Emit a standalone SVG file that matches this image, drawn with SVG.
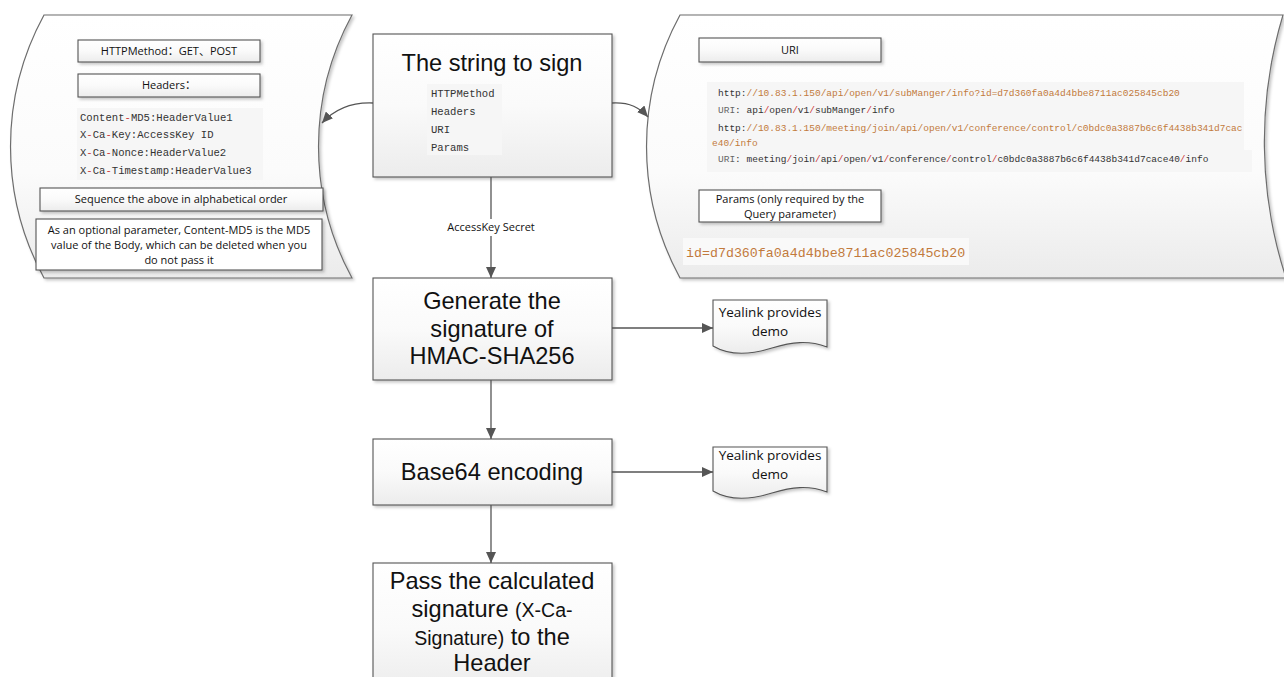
<svg xmlns="http://www.w3.org/2000/svg" width="1284" height="677" viewBox="0 0 1284 677">
<defs>
<linearGradient id="gShape" x1="0" y1="0" x2="0" y2="1"><stop offset="0" stop-color="#ffffff"/><stop offset="0.6" stop-color="#fbfbfb"/><stop offset="1" stop-color="#ebebeb"/></linearGradient>
<linearGradient id="gBox" x1="0" y1="0" x2="0" y2="1"><stop offset="0" stop-color="#ffffff"/><stop offset="0.5" stop-color="#fafafa"/><stop offset="1" stop-color="#ececec"/></linearGradient>
<filter id="sh" x="-10%" y="-10%" width="130%" height="130%"><feDropShadow dx="2" dy="2" stdDeviation="1.5" flood-color="#000" flood-opacity="0.22"/></filter>
<marker id="ah" markerUnits="userSpaceOnUse" markerWidth="12" markerHeight="10" refX="11" refY="5" orient="auto"><path d="M0,0 L11,5 L0,10 Z" fill="#555"/></marker>
</defs>
<style>
.shape{fill:url(#gShape);stroke:#6d6d6d;stroke-width:1.2;filter:url(#sh)}
.box{fill:url(#gBox);stroke:#555;stroke-width:1.1;filter:url(#sh)}
.wbox{fill:#fff;stroke:#555;stroke-width:1.1;filter:url(#sh)}
.lbl{font-family:"Open Sans","Noto Sans CJK SC",sans-serif;font-size:11px;fill:#111;text-anchor:middle}
.big{font-family:"Liberation Sans",Arial,sans-serif;font-size:23.6px;fill:#111;text-anchor:middle}
.doc{font-family:"Open Sans",sans-serif;font-size:13.5px;fill:#111;text-anchor:middle}
.code{font-family:"Liberation Mono","DejaVu Sans Mono",monospace;fill:#333}
.c1{font-size:10.6px}
.c2{font-size:9.5px}
.or{fill:#c27a3c}
.rd{fill:#cc3a3a}
.gy{fill:#666}
.cbg{fill:#f6f6f6}
.conn{fill:none;stroke:#555;stroke-width:1.3}
</style>

<g id="left-panel">
<path class="shape" d="M44,15 L352,15 A275,275 0 0 0 352,278 L44,278 A275,275 0 0 1 44,15 Z"/>
<rect class="box" x="78" y="40" width="182" height="22"/>
<text class="lbl" x="169" y="55">HTTPMethod：GET、POST</text>
<rect class="box" x="78" y="74" width="182" height="23"/>
<text class="lbl" x="169" y="89">Headers：</text>
<rect class="cbg" x="77" y="108" width="186" height="72"/>
<text class="code c1" x="80" y="121">Content<tspan class="rd">-</tspan>MD5:HeaderValue1</text>
<text class="code c1" x="80" y="138">X<tspan class="rd">-</tspan>Ca<tspan class="rd">-</tspan>Key:AccessKey ID</text>
<text class="code c1" x="80" y="156">X<tspan class="rd">-</tspan>Ca<tspan class="rd">-</tspan>Nonce:HeaderValue2</text>
<text class="code c1" x="80" y="174">X<tspan class="rd">-</tspan>Ca<tspan class="rd">-</tspan>Timestamp:HeaderValue3</text>
<rect class="box" x="40" y="188" width="283" height="23"/>
<text class="lbl" x="181" y="203">Sequence the above in alphabetical order</text>
<rect class="wbox" x="36" y="219" width="286" height="51"/>
<text class="lbl" x="179" y="234">As an optional parameter, Content-MD5 is the MD5</text>
<text class="lbl" x="179" y="249">value of the Body, which can be deleted when you</text>
<text class="lbl" x="179" y="264">do not pass it</text>
</g>

<g id="right-panel">
<path class="shape" d="M680,15 L1283,15 A440,440 0 0 0 1286,278 L680,278 A275,275 0 0 1 680,15 Z"/>
<rect class="box" x="699" y="38" width="182" height="24"/>
<text class="lbl" x="790" y="54">URI</text>
<rect class="cbg" x="707" y="82" width="537" height="70"/>
<rect class="cbg" x="707" y="150" width="545" height="22"/>
<text class="code c2" x="718" y="96">http:<tspan class="or">//10.83.1.150/api/open/v1/subManger/info?id=d7d360fa0a4d4bbe8711ac025845cb20</tspan></text>
<text class="code c2" x="718" y="113"><tspan class="gy">URI</tspan>: api<tspan class="rd">/</tspan>open<tspan class="rd">/</tspan>v1<tspan class="rd">/</tspan>subManger<tspan class="rd">/</tspan>info</text>
<text class="code c2" x="718" y="131">http:<tspan class="or">//10.83.1.150/meeting/join/api/open/v1/conference/control/c0bdc0a3887b6c6f4438b341d7cac</tspan></text>
<text class="code c2 or" x="712" y="146">e40/info</text>
<text class="code c2" x="718" y="162"><tspan class="gy">URI</tspan>: meeting<tspan class="rd">/</tspan>join<tspan class="rd">/</tspan>api<tspan class="rd">/</tspan>open<tspan class="rd">/</tspan>v1<tspan class="rd">/</tspan>conference<tspan class="rd">/</tspan>control<tspan class="rd">/</tspan>c0bdc0a3887b6c6f4438b341d7cace40<tspan class="rd">/</tspan>info</text>
<rect class="wbox" x="699" y="190" width="182" height="32"/>
<text class="lbl" x="790" y="203">Params (only required by the</text>
<text class="lbl" x="790" y="218">Query parameter)</text>
<rect fill="#f9f9f9" x="683" y="238" width="286" height="27"/>
<text class="code or" x="686" y="257" font-size="13.3">id=d7d360fa0a4d4bbe8711ac025845cb20</text>
</g>

<g id="string-to-sign">
<rect class="box" x="373" y="34" width="239" height="143"/>
<text class="big" x="492" y="71" font-size="24.5">The string to sign</text>
<rect class="cbg" x="427" y="84" width="75" height="71"/>
<text class="code c1" x="431" y="97">HTTPMethod</text>
<text class="code c1" x="431" y="115">Headers</text>
<text class="code c1" x="431" y="133">URI</text>
<text class="code c1" x="431" y="151">Params</text>
</g>

<g id="generate">
<rect class="box" x="373" y="278" width="239" height="102"/>
<text class="big" x="492" y="309">Generate the</text>
<text class="big" x="492" y="337">signature of</text>
<text class="big" x="492" y="364">HMAC-SHA256</text>
</g>

<g id="base64">
<rect class="box" x="373" y="439" width="239" height="66"/>
<text class="big" x="492" y="480">Base64 encoding</text>
</g>

<g id="pass">
<rect class="box" x="373" y="563" width="239" height="130"/>
<text class="big" x="492" y="589">Pass the calculated</text>
<text class="big" x="492" y="617">signature <tspan font-size="19.5">(X-Ca-</tspan></text>
<text class="big" x="492" y="645"><tspan font-size="19.5">Signature)</tspan> to the</text>
<text class="big" x="492" y="671">Header</text>
</g>

<g id="demo1">
<path class="box" d="M713,300 H827 V347 C808,340 792,342 772,348 C750,355 730,356 713,346 Z"/>
<text class="doc" x="770" y="317">Yealink provides</text>
<text class="doc" x="770" y="336">demo</text>
</g>

<g id="demo2">
<path class="box" d="M713,447 H827 V492 C808,485 792,487 772,493 C750,500 730,501 713,491 Z"/>
<text class="doc" x="770" y="460">Yealink provides</text>
<text class="doc" x="770" y="479">demo</text>
</g>

<g id="connectors">
<path class="conn" d="M373,103 C350,102 334,110 322,123" marker-end="url(#ah)"/>
<path class="conn" d="M612,103 C630,102 640,108 648,117" marker-end="url(#ah)"/>
<path class="conn" d="M491,177 V278" marker-end="url(#ah)"/>
<rect x="438" y="219" width="106" height="17" fill="#fff"/>
<text class="lbl" x="491" y="231" font-size="11.5">AccessKey Secret</text>
<path class="conn" d="M491,380 V439" marker-end="url(#ah)"/>
<path class="conn" d="M491,505 V563" marker-end="url(#ah)"/>
<path class="conn" d="M612,328 H713" marker-end="url(#ah)"/>
<path class="conn" d="M612,472 H713" marker-end="url(#ah)"/>
</g>
</svg>
